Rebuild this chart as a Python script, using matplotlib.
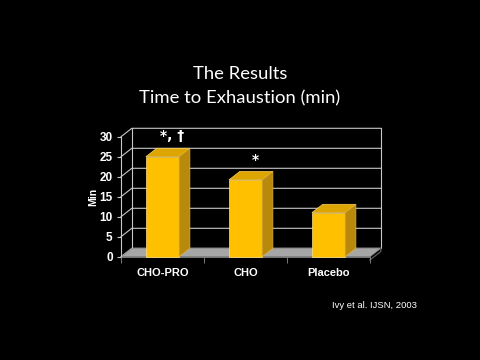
import numpy as np
import matplotlib.pyplot as plt
from matplotlib.patches import Polygon

# Data
groups = ["CHO-PRO", "CHO", "Placebo"]
minutes = [25, 19.2, 11]
marks = ["*, \u2020", "*", ""]
y_ticks = [0, 5, 10, 15, 20, 25, 30]

# 3d look
DX, DY = 0.13, 2.1       # depth offset in data units
BAR_W = 0.4
FRONT = "#FFC000"
TOP = "#DDA500"
SIDE = "#B8890A"
GRID = "#C8C8C8"
FLOOR = "#A6A6A6"

fig = plt.figure(figsize=(4.8, 3.6), dpi=100, facecolor="black")
fig.text(0.5, 0.795, "The Results", ha="center", va="center",
         color="white", fontsize=13.3, family="Lato")
fig.text(0.5, 0.728, "Time to Exhaustion (min)", ha="center", va="center",
         color="white", fontsize=13.3, family="Lato")

ax = fig.add_axes([121 / 480, 1 - 256.7 / 360, 249 / 480, 120 / 360])
ax.set_facecolor("black")
ax.set_xlim(-0.5, 2.5)
ax.set_ylim(0, 30)

x0, x1 = -0.5, 2.5

# floor
ax.add_patch(Polygon([(x0, 0), (x1, 0), (x1 + DX, DY), (x0 + DX, DY)],
                     closed=True, facecolor=FLOOR, edgecolor="#8a8a8a",
                     lw=0.6, clip_on=False, zorder=1))
ax.plot([x1, x1 + DX, x1 + DX], [-0.8, DY - 0.8, DY], color="#555555",
        lw=1, clip_on=False, zorder=1)

# walls and gridlines
for v in y_ticks:
    ax.plot([x0, x0 + DX, x1 + DX], [v, v + DY, v + DY], color=GRID,
            lw=0.8, clip_on=False, zorder=0)
ax.plot([x0 + DX, x0 + DX], [DY, 30 + DY], color=GRID, lw=0.8,
        clip_on=False, zorder=0)
ax.plot([x1 + DX, x1 + DX], [DY, 30 + DY], color=GRID, lw=0.8,
        clip_on=False, zorder=0)

# bars
for i, (v, m) in enumerate(zip(minutes, marks)):
    l, r = i - BAR_W / 2, i + BAR_W / 2
    ax.add_patch(Polygon([(l, 0), (r, 0), (r, v), (l, v)], closed=True,
                         facecolor=FRONT, edgecolor="#FFE080", lw=0.5,
                         clip_on=False, zorder=3))
    ax.add_patch(Polygon([(l, v), (r, v), (r + DX, v + DY), (l + DX, v + DY)],
                         closed=True, facecolor=TOP, edgecolor="#FFD060",
                         lw=0.5, clip_on=False, zorder=3))
    ax.add_patch(Polygon([(r, 0), (r + DX, DY), (r + DX, v + DY), (r, v)],
                         closed=True, facecolor=SIDE, edgecolor="#E0B040",
                         lw=0.5, clip_on=False, zorder=3))
    if m:
        ax.text(i + DX / 2 + 0.05, v + DY + 1.2, m, ha="center", va="bottom",
                color="white", fontsize=10, fontweight="bold",
                family="DejaVu Sans", zorder=4)

# axes styling
for s in ["top", "right"]:
    ax.spines[s].set_visible(False)
ax.spines["left"].set_color(GRID)
ax.spines["left"].set_linewidth(0.8)
ax.spines["bottom"].set_color("#8a8a8a")
ax.spines["bottom"].set_linewidth(0.6)
ax.set_yticks(y_ticks)
ax.set_yticklabels([str(t) for t in y_ticks])
ax.set_xticks(range(len(groups)))
ax.set_xticklabels(groups)
ax.set_xticks([-0.5, 0.5, 1.5, 2.5], minor=True)
ax.tick_params(axis="y", colors=GRID, length=3, width=0.8, pad=3,
               labelcolor="white", labelsize=8.5)
ax.tick_params(axis="x", which="major", length=0, pad=8,
               labelcolor="white", labelsize=8)
ax.tick_params(axis="x", which="minor", length=4, width=0.6, colors="#8a8a8a")
for lab in ax.get_yticklabels() + ax.get_xticklabels():
    lab.set_fontweight("bold")
    lab.set_family("Liberation Sans")
ax.set_ylabel("Min", color="white", fontsize=7.5, fontweight="bold",
              family="Liberation Sans", labelpad=1)

fig.text(332 / 480, 1 - 306 / 360, "Ivy et al. IJSN, 2003", ha="left",
         va="center", color="white", fontsize=6.8, family="Liberation Sans")

fig.savefig("out.png", dpi=100, facecolor="black")
